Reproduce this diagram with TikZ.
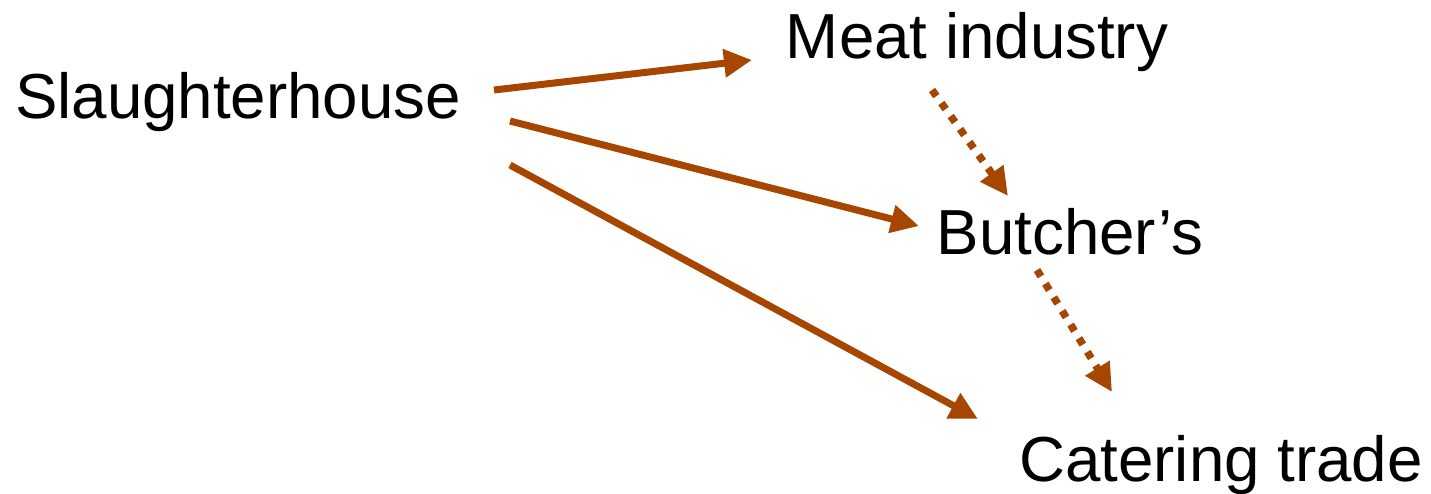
\documentclass[tikz,border=0pt]{standalone}
\usepackage{fontspec}
\setmainfont{Liberation Sans}
\usetikzlibrary{arrows.meta}
\definecolor{arr}{RGB}{166,70,0}
\begin{document}
\begin{tikzpicture}[x=0.01cm,y=-0.01cm,
  lbl/.style={font=\fontsize{18.1}{22}\selectfont, inner sep=0pt, anchor=base},
  flow/.style={draw=arr, line width=0.07cm, -{Triangle[length=0.28cm,width=0.27cm]}},
  dflow/.style={flow, line width=0.075cm, dash pattern=on 0.075cm off 0.085cm}]
\useasboundingbox (0,0) rectangle (1431,493);
\node[lbl] (s) at (238,118) {Slaughterhouse};
\node[lbl] (m) at (977,58) {Meat industry};
\node[lbl] (b) at (1070,254) {Butcher’s};
\node[lbl] (c) at (1221,481) {Catering trade};
\coordinate (s1) at (494,90);
\coordinate (s2) at (510,121);
\coordinate (s3) at (510,165);
\coordinate (m1) at (752,60);
\coordinate (b1) at (919,226);
\coordinate (c1) at (978,419);
\coordinate (m2) at (932,90);
\coordinate (b2) at (1008,196);
\coordinate (b3) at (1037,270);
\coordinate (c2) at (1112,392);
\draw[flow] (s1) -- (m1);
\draw[flow] (s2) -- (b1);
\draw[flow] (s3) -- (c1);
\draw[dflow] (m2) -- (b2);
\draw[dflow] (b3) -- (c2);
\end{tikzpicture}
\end{document}
